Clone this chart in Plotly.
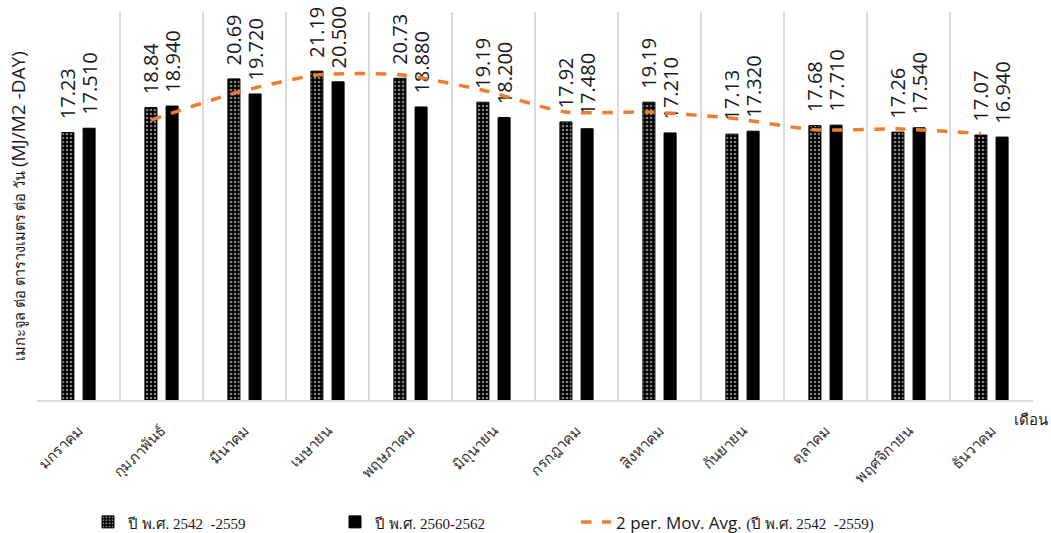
import plotly.graph_objects as go

# Monthly mean solar energy (MJ/m2/day)
months = ["มกราคม", "กุมภาพันธ์", "มีนาคม", "เมษายน", "พฤษภาคม", "มิถุนายน",
          "กรกฎาคม", "สิงหาคม", "กันยายน", "ตุลาคม", "พฤศจิกายน", "ธันวาคม"]
period_2542_2559 = [17.23, 18.84, 20.69, 21.19, 20.73, 19.19,
                    17.92, 19.19, 17.13, 17.68, 17.26, 17.07]
period_2560_2562 = [17.51, 18.94, 19.72, 20.50, 18.88, 18.20,
                    17.48, 17.21, 17.32, 17.71, 17.54, 16.94]

serif = "font-family:'Liberation Serif', serif; font-size:15px"
name_a = f"<span style=\"{serif}\">ปี พ.ศ. 2542  -2559</span>"
name_b = f"<span style=\"{serif}\">ปี พ.ศ. 2560-2562</span>"
name_ma = f"2 per. Mov. Avg. <span style=\"{serif}\">(ปี พ.ศ. 2542  -2559)</span>"

# 2-period moving average of the 2542-2559 series (starts at the 2nd month)
moving_avg = [None] + [(period_2542_2559[i - 1] + period_2542_2559[i]) / 2
                       for i in range(1, len(period_2542_2559))]

idx = list(range(len(months)))
BAR_W = 0.145
OFF_A = -0.2
OFF_B = 0.055
CENTER_A = OFF_A + BAR_W / 2

label_font = dict(family="Open Sans, Liberation Sans, sans-serif", size=20, color="#1a1a1a")
pad = "\u00a0\u00a0"

fig = go.Figure()
fig.add_trace(go.Bar(
    x=idx, y=period_2542_2559, name=name_a, legend="legend",
    width=BAR_W, offset=OFF_A,
    marker=dict(color="black",
                line=dict(color="black", width=1),
                pattern=dict(shape=".", fgcolor="white", bgcolor="black",
                             size=4, solidity=0.35, fillmode="overlay")),
    text=[pad + f"{v:.2f}" for v in period_2542_2559],
    textposition="outside", textangle=-90, textfont=label_font,
    constraintext="none", cliponaxis=False,
))
fig.add_trace(go.Bar(
    x=idx, y=period_2560_2562, name=name_b, legend="legend2",
    width=BAR_W, offset=OFF_B,
    marker=dict(color="black", line=dict(color="black", width=1)),
    text=[pad + f"{v:.3f}" for v in period_2560_2562],
    textposition="outside", textangle=-90, textfont=label_font,
    constraintext="none", cliponaxis=False,
))
fig.add_trace(go.Scatter(
    x=[i + CENTER_A for i in idx], y=moving_avg, name=name_ma, legend="legend3",
    mode="lines",
    line=dict(color="#ED7D31", width=3.5, dash="dash", shape="spline", smoothing=0.6),
))

legend_common = dict(orientation="h", xref="container", yref="container",
                     y=0.02, yanchor="middle", xanchor="left",
                     font=dict(family="Open Sans, sans-serif", size=17, color="#1a1a1a"),
                     bgcolor="rgba(0,0,0,0)")

fig.update_layout(
    width=1051, height=533,
    margin=dict(l=37, r=18, t=12, b=133),
    plot_bgcolor="white", paper_bgcolor="white",
    barmode="overlay",
    showlegend=True,
    legend=dict(legend_common, x=88 / 1051),
    legend2=dict(legend_common, x=335 / 1051),
    legend3=dict(legend_common, x=576 / 1051),
    xaxis=dict(
        range=[-0.5, 11.5], tickmode="array", tickvals=idx, ticktext=months,
        tickangle=-45, showgrid=False, zeroline=False, automargin=False,
        showline=True, linecolor="#d9d9d9", linewidth=1.5,
        ticklabelstandoff=14,
        tickfont=dict(family="Liberation Serif, serif", size=15, color="#333333"),
        minor=dict(tickmode="array", tickvals=[i - 0.5 for i in range(len(months) + 1)],
                   showgrid=True, gridcolor="#d9d9d9", gridwidth=1.5, ticks=""),
    ),
    yaxis=dict(
        range=[0, 25], showticklabels=False, showgrid=False, zeroline=False,
        ticks="", automargin=False,
        title=dict(text="เมกะจูล ต่อ ตารางเมตร ต่อ วัน <span style='font-size:19px'>(MJ/M2 -DAY)</span>",
                   font=dict(family="Open Sans, sans-serif", size=14.5, color="#1a1a1a"),
                   standoff=6),
    ),
    annotations=[dict(text="เดือน", xref="paper", yref="paper", x=1.017, y=-0.05,
                      xanchor="right", yanchor="middle", showarrow=False,
                      font=dict(family="Open Sans, sans-serif", size=15, color="#1a1a1a"))],
)

fig.write_html("out.html")
